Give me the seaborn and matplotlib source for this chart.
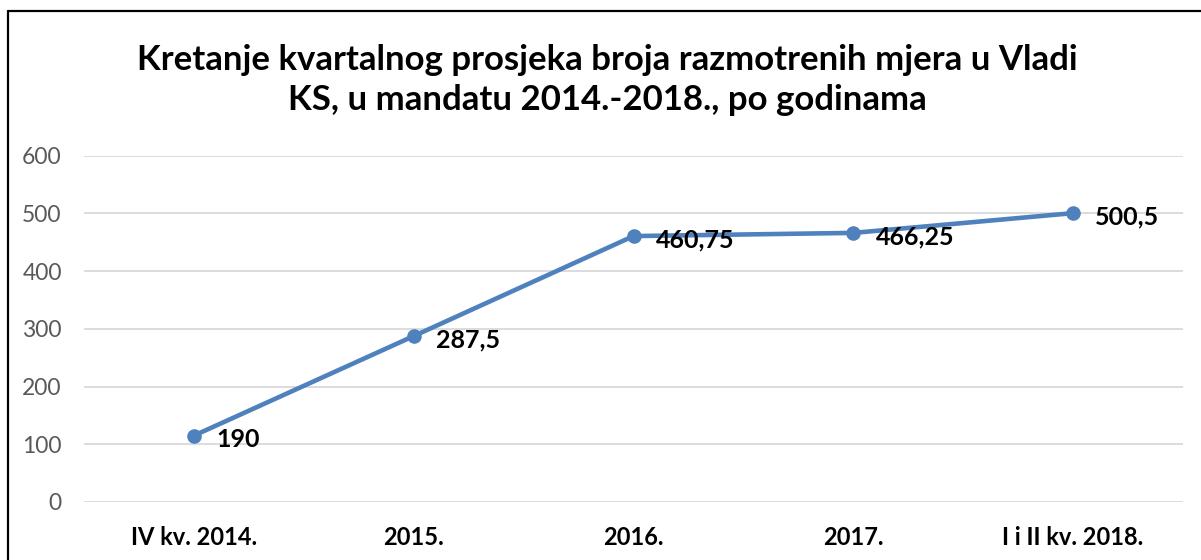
import matplotlib
matplotlib.use("Agg")
import matplotlib.pyplot as plt
from matplotlib.lines import Line2D
import seaborn as sns
import pandas as pd

categories = ["IV kv. 2014.", "2015.", "2016.", "2017.", "I i II kv. 2018."]
values = [115, 287.5, 460.75, 466.25, 500.5]
value_labels = ["190", "287,5", "460,75", "466,25", "500,5"]
y_ticks = [0, 100, 200, 300, 400, 500, 600]
title = "Kretanje kvartalnog prosjeka broja razmotrenih mjera u Vladi\nKS, u mandatu 2014.-2018., po godinama"

sns.set_theme(style="white")
plt.rcParams["font.family"] = ["Lato", "DejaVu Sans"]

df = pd.DataFrame({"cat": categories, "val": values, "pos": range(len(categories))})

fig = plt.figure(figsize=(12.01, 5.6), dpi=100)
ax = fig.add_axes([84 / 1201, 1 - 502 / 560, (1183 - 84) / 1201, (502 - 155.7) / 560])

sns.lineplot(data=df, x="pos", y="val", ax=ax, color="#4F81BD", linewidth=3.3,
             marker="o", markersize=10.5, markeredgewidth=0, sort=False)

ax.set_xlim(-0.5, len(categories) - 0.5)
ax.set_ylim(0, 600)
ax.set_yticks(y_ticks)
ax.set_yticklabels([str(t) for t in y_ticks], color="#595959", fontsize=16.5)
ax.set_xticks(range(len(categories)))
ax.set_xticklabels(categories, fontsize=17, fontweight="bold", color="black")
ax.tick_params(axis="y", length=0, pad=16)
ax.tick_params(axis="x", length=0, pad=17)
ax.grid(axis="y", color="#D9D9D9", linewidth=1.3)
ax.set_axisbelow(True)
for s in ax.spines.values():
    s.set_visible(False)
ax.set_xlabel("")
ax.set_ylabel("")

for i, (v, lab) in enumerate(zip(values, value_labels)):
    ax.annotate(lab, (i, v), xytext=(16, -3), textcoords="offset points",
                ha="left", va="center", fontsize=18, fontweight="bold", color="black")

fig.text(0.506, 1 - 80 / 560, title, ha="center", va="center", fontsize=25,
         fontweight="bold", color="black", linespacing=1.3)

# outer frame (left and top)
fig.add_artist(Line2D([8 / 1201, 8 / 1201], [0, 1 - 11 / 560], transform=fig.transFigure,
                      color="black", linewidth=1.6))
fig.add_artist(Line2D([8 / 1201, 1], [1 - 11 / 560, 1 - 11 / 560], transform=fig.transFigure,
                      color="black", linewidth=1.6))

fig.savefig("out.png", dpi=100)
